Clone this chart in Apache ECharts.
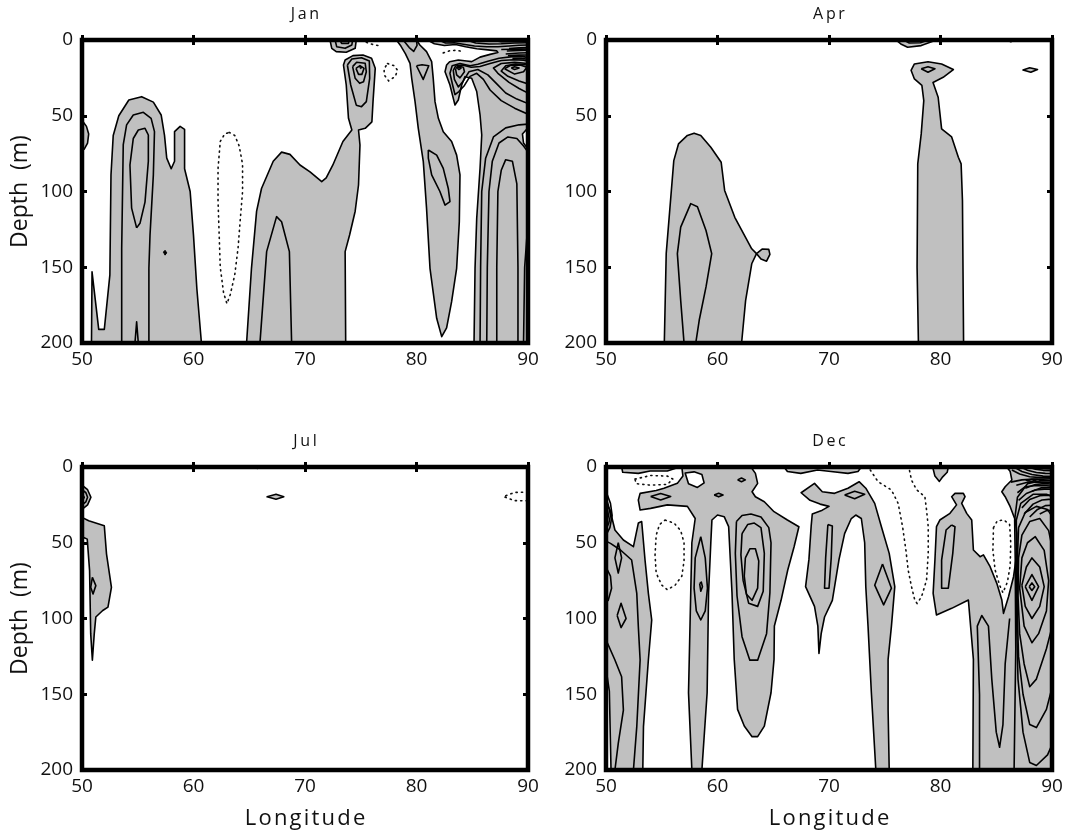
<!DOCTYPE html>
<html>
<head>
<meta charset="utf-8">
<script src="https://cdn.jsdelivr.net/npm/echarts/dist/echarts.min.js"></script>
<style>
html,body{margin:0;padding:0;background:#fff}
#chart{width:1070px;height:832px}
</style>
</head>
<body>
<div id="chart"></div>
<script>
// Axis ticks shared by every panel
const lonTicks = [50, 60, 70, 80, 90];
const depthTicks = [0, 50, 100, 150, 200];
const months = ['Jan', 'Apr', 'Jul', 'Dec'];

// ---------- Jan contours, [longitude, depth] ----------
const janEdgeBump = [[50,53],[50.4,57],[50.6,62],[50.5,68],[50.2,72],[50,73]];
const janWestOuter = [[50.85,200],[50.9,153],[51.5,191],[52.0,191],[52.5,155],[52.6,89],[52.8,63],[53.3,50],[54.2,39.6],[55.35,37.4],[56.4,41],[57.1,49.5],[57.4,63],[57.6,78],[58.0,85],[58.3,80],[58.3,60.5],[58.8,57],[59.2,59],[59.2,85],[59.7,100],[60.0,129],[60.3,164],[60.7,199],[60.75,200]];
const janWestMid = [[53.56,200],[53.56,137.5],[53.7,69],[54.0,56],[54.6,49.5],[55.5,47.7],[56.2,51.7],[56.5,60.5],[56.4,89],[56.1,128.7],[56.0,150.7],[56.0,200]];
const janWestCore = [[54.9,124],[54.45,111],[54.3,82.5],[54.6,65],[55.05,59.4],[55.65,58.3],[55.95,62.7],[55.95,80],[55.65,107],[55.2,121]];
const janWestSpike = [[54.75,200],[54.9,186],[55.05,200]];
const janWestSpot = [[57.3,140],[57.45,138.8],[57.6,140.5],[57.45,142]];
const janNegWest = [[63.2,61],[63.7,63],[64.1,70],[64.4,82],[64.4,100],[64.2,118],[64.0,137],[63.7,155],[63.3,168],[63.0,174],[62.7,167],[62.4,150],[62.3,128],[62.2,106],[62.2,85],[62.4,67],[62.8,62],[63.2,61]];
const janMidOuter = [[64.76,200],[65.2,150.7],[65.66,113],[66.1,98],[67.15,80],[67.9,74],[68.65,75.5],[69.55,82.5],[70.45,87],[71.5,93.5],[71.9,91],[72.5,82.5],[73.4,67],[74.2,59.4],[73.9,51.7],[73.7,29.7],[73.45,16.5],[73.6,13.2],[74.3,10.3],[75.2,9.9],[75.97,12],[76.3,18.7],[76.1,40.7],[76.0,54],[75.4,58.3],[74.8,59.4],[74.93,69.3],[74.8,95.7],[74.5,113],[74.0,128.7],[73.6,139.7],[73.65,200]];
const janMidInner = [[65.96,200],[66.56,139.7],[67.45,116.6],[67.9,120],[68.6,139.7],[68.8,200]];
const janNeckRing1 = [[73.8,16.5],[74.2,12.5],[75.07,11.7],[75.77,13.9],[75.8,25.3],[75.5,40.7],[75.07,44],[74.6,43],[74.1,29.7]];
const janNeckRing2 = [[74.27,17.6],[74.63,14.7],[75.4,15.4],[75.5,21],[75.25,27.5],[74.9,28.6],[74.5,25.3]];
const janNeckRing3 = [[74.57,18.7],[74.93,16.9],[75.3,18.7],[75.1,22.7],[74.8,22.7]];
const janNeckSpot = [[74.9,18.3],[75.0,17.8],[75.1,18.3],[75.0,18.9]];
const janTopBlob = [[72.24,0],[72.4,5.5],[72.8,7.7],[73.7,8.1],[74.5,5.5],[74.6,0]];
const janTopBlob2 = [[72.7,0],[72.84,4.4],[73.6,5.5],[74.2,3.3],[74.27,0]];
const janTopBlob3 = [[73.13,0],[73.28,2.2],[73.9,2.2],[73.97,0]];
const janNegTop = [[75.5,1.5],[76.0,2.8],[76.6,3.7]];
const janNegSmall = [[77.4,15.5],[78.0,17],[78.3,20],[78.1,24],[77.5,27],[77.1,23],[77.1,19],[77.4,15.5]];
const janEastAOuter = [[78.2,0],[78.6,4],[79.0,9],[79.42,15.4],[79.57,25.3],[79.87,40.7],[80.16,58.3],[80.61,80.3],[80.9,111],[81.21,150.7],[81.81,183.7],[82.26,195.8],[82.7,190],[83.15,172.7],[83.6,150.7],[83.84,120],[83.9,89],[83.6,76],[83.15,67],[82.4,60.5],[81.96,51.7],[81.66,40.7],[81.5,25.3],[81.36,14.3],[80.9,7.7],[80.3,3.3],[80.0,0]];
const janEastATop = [[78.8,0],[79.35,5],[79.75,7.5],[80.05,3.5],[80.0,0]];
const janEastARing = [[80.0,17],[80.5,16.3],[81.1,17],[80.6,26]];
const janEastAInner = [[81.06,72.6],[81.81,76],[82.4,84.7],[82.85,98],[83.0,106.7],[82.56,109],[82.1,100],[81.36,89],[81.06,78]];
const janEastBOuter = [[81.0,0],[81.6,2.5],[82.5,3.6],[83.5,3.0],[84.4,4.5],[85.4,5.8],[86.4,6.5],[87.2,7.2],[87.3,8.2],[86.6,9.5],[85.7,11.3],[84.95,14.3],[84.5,13.9],[83.75,13.2],[82.97,14.3],[82.7,16.5],[82.56,20.9],[83.0,29.7],[83.3,38.5],[83.45,42.9],[83.75,39.6],[84.05,29.7],[84.35,24.2],[84.95,25.3],[85.4,34],[85.7,49.5],[85.85,62.7],[85.7,84.7],[85.4,117.7],[85.25,150.7],[85.16,200],[90,200],[90,0]];
const janEastBNotch = [[90,58],[89.5,62],[89.6,68],[90,72]];
const janArch1 = [[85.7,200],[85.75,150],[85.85,100],[86.2,78],[86.9,64],[88.0,58],[89.2,56],[90,55.5]];
const janArch2 = [[86.3,200],[86.35,150],[86.5,100],[86.8,80],[87.4,68],[88.2,64],[89.0,65],[89.6,70],[90,74]];
const janArch3 = [[87.2,200],[87.2,150],[87.3,100],[87.6,86],[88.0,79],[88.6,80],[89.0,95],[89.1,150],[89.1,200]];
const janArch4 = [[89.6,200],[89.7,150],[90,120]];
const janFan1 = [[90,49],[88.8,45],[87.6,40],[86.6,33],[86.0,26],[85.4,22],[84.8,24],[84.3,30],[83.8,34],[83.45,36],[83.25,30],[83.0,22],[83.2,17],[83.9,15.5],[84.8,17],[85.5,16],[86.4,14],[87.4,12],[88.6,11],[89.5,11],[90,11.5]];
const janFan2 = [[90,42],[89,39],[88,35],[87.2,29],[86.4,23],[85.5,19.5],[84.7,21],[84.2,27],[83.75,31],[83.4,26],[83.3,20],[83.5,17.2],[84.1,16.5],[84.9,18],[85.7,17.5],[86.6,15.5],[87.6,13.5],[88.7,13],[89.6,13.3],[90,14]];
const janFan3 = [[90,35],[89.2,32],[88.3,28],[87.3,22],[86.9,18.5],[87.6,15.5],[88.8,14.8],[90,15.5]];
const janLipRing1 = [[83.5,19],[83.75,17.2],[84.2,18],[84.3,21],[83.9,25],[83.6,23],[83.5,19]];
const janLipRing2 = [[83.65,18.5],[83.8,17.8],[84.0,18.5],[83.8,19.5],[83.65,18.5]];
const janEyeRing1 = [[90,29],[89.2,27],[88.2,24],[87.6,20.5],[88.0,17],[88.9,15.8],[90,16.5]];
const janEyeRing2 = [[87.9,19],[88.4,16.8],[89.3,16.5],[89.9,18],[89.6,21],[88.8,22.5],[87.9,19]];
const janEyeRing3 = [[88.5,18.5],[88.8,17.6],[89.2,18.5],[88.8,19.4],[88.5,18.5]];
const janStrip2 = [[82.0,0],[82.6,2],[83.4,1.8],[84.2,2.8],[85.2,4],[86.3,4.5],[87.3,4.5],[88.3,4],[89.2,3.5],[90,3.3]];
const janStrip3 = [[84.5,0],[85.3,2],[86.5,2.6],[87.6,2.5],[88.8,2],[90,1.8]];
const janStrip4 = [[86.6,0],[87.6,1.1],[88.8,1],[90,0.8]];
const janCorner1 = [[88.3,5.6],[89.2,5.2],[90,5]];
const janCorner2 = [[88.1,7.3],[89.2,6.9],[90,6.7]];
const janCorner3 = [[88.0,9.2],[89.2,8.6],[90,8.4]];
const janCorner4 = [[88.2,10.3],[89.2,10],[90,9.9]];
const janCorner5 = [[87.6,6.3],[88.6,6.1],[89.4,6.0],[90,5.9]];
const janCorner6 = [[88.6,12.1],[89.4,12.0],[90,12.8]];
const janNegNotch = [[82.4,8.5],[83.0,7],[83.7,6.8],[84.2,8]];

// ---------- Apr contours ----------
const aprWestOuter = [[55.23,200],[55.4,141],[56.08,79.6],[56.5,68.6],[57.3,63],[57.9,61.5],[58.5,63],[59.4,70.8],[60.33,80.7],[60.64,99.3],[61.55,117],[63.07,137.8],[63.5,141],[63.07,147.7],[62.52,172],[62.16,200]];
const aprWestLobe = [[63.5,141],[64.0,138],[64.6,138.2],[64.7,141.5],[64.4,146],[63.9,144.5]];
const aprWestInner = [[57.0,200],[56.7,172],[56.4,141],[56.7,123.5],[57.6,108],[58.2,110],[58.97,125.7],[59.48,141],[58.97,163],[58.36,185],[58.05,200]];
const aprEastOuter = [[78.02,200],[77.9,150],[77.96,81.8],[78.27,62],[78.5,40],[78.33,30],[77.66,25.7],[77.36,20],[77.66,15.8],[78.88,14.3],[80.1,15.8],[81.15,19.5],[80.24,24.6],[79.33,28],[79.79,37.8],[80.1,58.7],[81.0,64],[81.6,77.4],[81.85,81.8],[81.97,106],[82.07,200]];
const aprEastRing = [[78.27,19],[78.88,17.6],[79.5,19],[78.88,21.3]];
const aprTopBlob = [[76.0,0],[76.44,2.6],[77.05,4.8],[78.27,3.7],[79.5,0.4],[79.6,0]];
const aprTopLine = [[76.7,0],[77.2,2],[78.2,1.8],[78.9,0]];
const aprSmall = [[87.4,19.8],[88.0,18.3],[88.7,19.5],[88.1,21.3]];
const aprTiny = [[86.0,0],[86.3,1.2],[86.7,0]];

// ---------- Jul contours ----------
const julEdge1 = [[50,12],[50.5,15],[50.8,20],[50.5,25],[50,28]];
const julEdge2 = [[50,15],[50.35,17],[50.5,20],[50.35,23],[50,25]];
const julEdge3 = [[50,17.5],[50.2,20],[50,22.5]];
const julWest = [[50,33.3],[50.6,35.5],[52.0,38.8],[52.2,57.5],[52.64,79.4],[52.33,92.5],[51.86,94.7],[51.24,99],[51.1,110],[50.93,127.6],[50.78,110],[50.68,68.4],[50.47,47.6],[50.15,46.5],[50,48.7]];
const julWestRing = [[50.93,72.8],[51.24,78.3],[50.99,83.8],[50.78,79.4]];
const julMid = [[66.6,19.7],[67.4,18],[68.1,19.7],[67.4,21.3]];
const julTop = [[65.4,0],[65.7,0.9],[66.1,0]];
const julNegEast = [[90,16.5],[88.8,16.8],[87.8,19.5],[88.8,22.2],[90,22.3]];

// ---------- Dec contours ----------
const decTopStripW = [[51.4,0],[51.5,3.5],[52.9,4.2],[53.95,2.6],[55.5,2.6],[56.6,0]];
const decNegTopW = [[52.6,8],[54,5.6],[55.5,6],[56.0,8],[55.5,11.5],[54,12],[52.7,11],[52.6,8]];
const decMain = [[56.8,0],[63.0,0],[63.4,4.2],[63.6,10.8],[63.1,16.3],[63.4,19.6],[64.2,22.9],[65.07,29.5],[66.27,35],[67.3,39.4],[66.87,52.6],[66.3,68],[65.7,88],[65.1,105],[65.07,127],[64.8,149],[64.2,171],[63.6,178],[63.1,178],[62.4,171],[61.8,160],[61.5,127],[61.3,83],[61.0,39.4],[60.6,32.8],[60.0,31.7],[59.5,35],[59.4,50],[59.2,83],[59.07,149],[58.6,200],[57.7,200],[57.4,149],[57.6,83],[57.7,50],[58.0,34],[57.3,26],[55.5,25],[54.0,27.3],[53.06,28.4],[52.9,21.8],[53.06,17.4],[54.5,15.5],[55.2,14],[56.4,10.8],[56.9,6]];
const decMainBay = [[57.1,4],[57.4,11],[58.2,13.5],[58.8,10.5],[58.6,5],[57.9,3.2]];
const decRingW = [[54.0,19.5],[54.9,17.5],[55.8,19.5],[54.9,21.8]];
const decRingTop = [[61.8,8.5],[62.15,7.3],[62.5,8.5],[62.15,9.7]];
const decRingMid = [[59.7,18.5],[60.1,17.3],[60.5,18.5],[60.1,19.7]];
const decLegA = [[58.5,46],[58.9,60],[59.1,80],[58.9,95],[58.5,101],[58.1,95],[57.9,80],[58.0,60]];
const decLegASpot = [[58.4,77],[58.55,76],[58.65,79],[58.5,82]];
const decLegB2 = [[61.7,36],[62.2,32],[63.0,31],[63.9,33],[64.6,40],[64.8,50],[64.7,83],[64.4,110],[63.6,127.5],[62.9,127.5],[62.2,112],[61.75,85],[61.6,57]];
const decLegB3 = [[62.2,44],[62.7,38],[63.3,37],[63.9,40],[64.2,57],[64.1,82],[63.6,92],[62.8,90],[62.3,75],[62.1,58]];
const decLegB4 = [[62.5,60],[62.9,54],[63.4,54],[63.7,62],[63.6,80],[63.1,88],[62.6,84],[62.4,72]];
const decNegW = [[55.3,35],[56.1,37],[56.7,42],[57.0,50],[57.0,62],[56.8,72],[56.2,78],[55.5,81],[55.0,78],[54.5,70],[54.4,58],[54.5,45],[54.8,38],[55.3,35]];
const decFarW = [[50,24],[50.36,28.4],[50.8,41.6],[51.56,48.2],[52.46,52.6],[52.9,37],[53.2,36],[53.5,61.4],[53.8,83.4],[54.1,101],[53.8,127.4],[53.36,171.4],[53.3,200],[50,200]];
const decFarWHole = [[50,133],[50.3,148],[50.45,200],[50,200]];
const decFarWLine1 = [[50,49],[50.4,50.4],[51.3,54.8],[52.3,61.4],[52.76,83.4],[52.9,105.4],[53.06,127.4],[52.76,171.4],[52.46,200]];
const decFarWLine2 = [[50,114],[50.8,127.4],[51.4,138.4],[51.56,160.4],[51.1,182.4],[50.8,200]];
const decFarWDia1 = [[51.1,50],[51.4,60],[51.1,70],[50.8,60]];
const decFarWDia2 = [[51.0,98],[51.35,90],[51.8,100],[51.35,106]];
const decFarWBump = [[50,66],[50.4,72],[50.5,80],[50.2,88],[50,89]];
const decFarWHatch1 = [[50,16],[50.4,24],[50.55,32],[50.35,40],[50,45]];
const decFarWHatch2 = [[50,20],[50.28,27],[50.4,32],[50.25,37],[50,41]];
const decFarWHatch3 = [[50,24],[50.15,29],[50.22,32],[50.12,35],[50,38]];
const decStripMid = [[65.97,0],[66.27,3],[67.47,4.2],[68.97,2],[70.17,3],[71.7,4.2],[72.6,3],[72.9,0]];
const decCentre = [[67.5,17],[68.7,10.8],[69.4,16.3],[70.5,17.4],[71.7,14],[72.7,9.7],[73.3,14],[74.1,24],[74.7,39.4],[75.4,57],[75.9,79],[75.6,105],[75.3,127],[75.3,160],[75.4,200],[74.2,200],[73.8,149],[73.5,105],[73.3,79],[73.2,50],[72.9,34],[72.4,31.7],[72.0,34],[71.4,44],[70.9,61],[70.3,88],[69.6,99],[69.3,110],[69.1,123],[69.0,105],[68.7,92],[67.9,79],[68.2,61],[68.4,39],[68.5,31],[69.4,28.5],[70.0,26],[69.2,24.5],[68.3,22]];
const decCentreRing = [[71.4,18.5],[72.3,16],[73.2,18],[72.3,21]];
const decCentreSliver = [[69.9,38],[70.3,39],[70.2,60],[70.0,80],[69.6,80],[69.7,60]];
const decCentreDia = [[74.8,64],[75.6,80],[74.9,91],[74.1,78]];
const decNegMid = [[73.7,2],[74.4,9.7],[75.6,15.2],[76.2,24],[76.6,39.4],[76.9,55],[77.1,68],[77.4,79],[77.7,88],[77.9,90],[78.3,85.6],[78.75,74.6],[78.9,57],[78.9,39.4],[78.75,28.4],[78.6,19.6],[77.85,15],[77.4,8.6],[77.2,1.5]];
const decTopE = [[79.3,0],[79.5,6],[79.9,9.5],[80.2,6.5],[80.6,3.5],[80.7,0]];
const decEast = [[81.0,19.6],[81.3,17.4],[82.05,17.4],[82.2,19.6],[81.9,24],[82.35,30.6],[82.8,35],[82.95,54.8],[83.55,59.2],[83.85,58],[84.45,65.8],[85.05,76.8],[85.5,87.8],[85.65,96.6],[86.1,85.6],[86.55,72.4],[86.85,57],[86.85,43.8],[86.7,35],[86.25,26.2],[85.8,19.6],[85.5,16.3],[85.8,13],[86.4,8.6],[86.25,3],[85.95,0],[90,0],[90,200],[82.9,200],[82.95,127],[82.5,87.8],[81.0,93.3],[79.64,97.7],[79.34,83.4],[79.5,61.4],[79.64,39.4],[79.94,35],[80.85,30.6],[81.44,25]];
const decEastSliver = [[80.99,38.3],[81.3,39.4],[81.1,57],[80.7,80],[80.1,80],[80.1,61.4],[80.5,41.6]];
const decNegEast = [[84.75,40],[85.1,35.5],[85.7,35],[86.2,38],[86.3,50],[86.25,65],[86.0,76],[85.6,83],[85.3,78],[84.9,68],[84.7,55],[84.75,40]];
const decEye1 = [[87.95,79],[88.2,76.5],[88.45,79],[88.2,81.5]];
const decEye2 = [[87.6,79],[88.2,71],[88.8,79],[88.2,88]];
const decEye3 = [[87.3,78],[87.7,66],[88.2,60],[88.9,66],[89.3,79],[88.9,92],[88.2,100],[87.6,92]];
const decEye4 = [[87.1,80],[87.3,60],[87.8,50],[88.5,46],[89.3,55],[89.7,75],[89.5,95],[88.8,110],[88.2,116],[87.5,105]];
const decEye5 = [[86.95,85],[87.0,60],[87.3,45],[88.0,36],[88.9,34],[89.7,42],[90.2,60],[90.2,100],[89.5,120],[88.6,140],[88.0,145],[87.5,130],[87.1,110]];
const decEye6 = [[86.9,100],[86.9,60],[87.0,40],[87.6,30],[88.6,26],[89.6,28],[90.2,35],[90.2,140],[89.5,160],[88.6,172],[88.0,170],[87.4,150],[87.0,125]];
const decEye7 = [[86.85,110],[86.8,60],[86.8,35],[87.2,24],[88.3,18],[89.5,18],[90.2,20],[90.2,180],[89.6,190],[88.6,197],[88.0,195],[87.4,175],[86.95,140]];
const decEastLine1 = [[86.6,200],[86.75,120],[86.7,60],[86.65,35],[86.9,20],[87.8,11],[89,9],[90,9]];
const decEastLine2 = [[83.5,200],[83.5,150],[83.3,105],[83.7,98],[84.3,105],[84.6,140],[85.0,175],[85.3,185],[85.6,170],[85.8,130],[86.2,100]];
const decCorner1 = [[86.6,0],[87.3,3],[88.2,5],[89.2,6],[90,6.2]];
const decCorner2 = [[87.2,0],[87.8,2.2],[88.6,3.6],[89.4,4.2],[90,4.3]];
const decCorner3 = [[87.9,0],[88.5,1.4],[89.2,2.2],[90,2.5]];
const decCorner4 = [[86.3,10],[87.3,8.5],[88.3,8],[89.2,8],[90,7.8]];
const decCorner5 = [[87.6,14],[88.5,11.5],[89.3,11],[90,11.2]];
const decCorner6 = [[88.2,16],[89,13.8],[90,13.6]];
const decCorner7 = [[86.4,2],[87.1,4.6],[88.0,6.4],[89.0,7.0],[90,7.1]];
const decCorner8 = [[86.8,12],[87.8,10],[88.9,9.9],[90,10.1]];
const decCorner9 = [[87.0,22],[87.7,17.5],[88.5,15.2],[89.3,14.6],[90,14.7]];
const decCorner10 = [[87.3,27],[88.0,21.5],[88.9,19.0],[89.6,18.6],[90,18.7]];
const decCorner11 = [[86.9,17],[87.6,13],[88.6,12.2],[89.5,12.4],[90,12.6]];
const decCorner12 = [[88.8,1],[89.4,1.2],[90,1.3]];
const decCorner13 = [[87.5,31],[88.3,24.5],[89.1,21.8],[89.7,21.4],[90,21.5]];
const decCorner14 = [[88.0,33],[88.7,28],[89.4,25.5],[90,25.2]];
const decCorner15 = [[88.9,31],[89.5,28.8],[90,28.5]];
const decCornerHole = [[87.7,8.8],[88.2,8.1],[88.7,8.3],[88.2,9.6]];

// Draw lists for each panel: k = fill | hole | ring | line | neg | spot
const janShapes = [
  {k:'fill', p:janEdgeBump}, {k:'fill', p:janWestOuter}, {k:'ring', p:janWestMid, open:true},
  {k:'ring', p:janWestCore}, {k:'line', p:janWestSpike}, {k:'spot', p:janWestSpot},
  {k:'neg', p:janNegWest},
  {k:'fill', p:janMidOuter}, {k:'line', p:janMidInner}, {k:'ring', p:janNeckRing1},
  {k:'ring', p:janNeckRing2}, {k:'ring', p:janNeckRing3}, {k:'spot', p:janNeckSpot},
  {k:'fill', p:janTopBlob}, {k:'line', p:janTopBlob2}, {k:'line', p:janTopBlob3},
  {k:'neg', p:janNegTop}, {k:'neg', p:janNegSmall}, {k:'neg', p:janNegNotch},
  {k:'fill', p:janEastAOuter}, {k:'line', p:janEastATop}, {k:'ring', p:janEastARing}, {k:'ring', p:janEastAInner},
  {k:'fill', p:janEastBOuter}, {k:'hole', p:janEastBNotch},
  {k:'line', p:janArch1}, {k:'line', p:janArch2}, {k:'line', p:janArch3}, {k:'line', p:janArch4},
  {k:'line', p:janFan1}, {k:'line', p:janFan2}, {k:'line', p:janFan3},
  {k:'line', p:janLipRing1}, {k:'line', p:janLipRing2},
  {k:'line', p:janEyeRing1}, {k:'line', p:janEyeRing2}, {k:'line', p:janEyeRing3},
  {k:'line', p:janStrip2}, {k:'line', p:janStrip3}, {k:'line', p:janStrip4},
  {k:'line', p:janCorner1}, {k:'line', p:janCorner2}, {k:'line', p:janCorner3},
  {k:'line', p:janCorner4}, {k:'line', p:janCorner5}, {k:'line', p:janCorner6}
];
const aprShapes = [
  {k:'fill', p:aprWestOuter}, {k:'fill', p:aprWestLobe}, {k:'line', p:aprWestInner},
  {k:'fill', p:aprEastOuter}, {k:'ring', p:aprEastRing},
  {k:'fill', p:aprTopBlob}, {k:'line', p:aprTopLine},
  {k:'fill', p:aprSmall}, {k:'fill', p:aprTiny}
];
const julShapes = [
  {k:'fill', p:julEdge1}, {k:'line', p:julEdge2}, {k:'line', p:julEdge3},
  {k:'fill', p:julWest}, {k:'ring', p:julWestRing},
  {k:'fill', p:julMid}, {k:'fill', p:julTop}, {k:'neg', p:julNegEast}
];
const decShapes = [
  {k:'fill', p:decTopStripW}, {k:'neg', p:decNegTopW},
  {k:'fill', p:decMain}, {k:'hole', p:decMainBay}, {k:'ring', p:decRingW}, {k:'ring', p:decRingTop},
  {k:'ring', p:decRingMid}, {k:'ring', p:decLegA}, {k:'ring', p:decLegASpot},
  {k:'ring', p:decLegB2}, {k:'ring', p:decLegB3}, {k:'ring', p:decLegB4},
  {k:'neg', p:decNegW},
  {k:'fill', p:decFarW}, {k:'hole', p:decFarWHole}, {k:'line', p:decFarWLine1}, {k:'line', p:decFarWLine2},
  {k:'ring', p:decFarWDia1}, {k:'ring', p:decFarWDia2}, {k:'line', p:decFarWBump},
  {k:'line', p:decFarWHatch1}, {k:'line', p:decFarWHatch2}, {k:'line', p:decFarWHatch3},
  {k:'fill', p:decStripMid},
  {k:'fill', p:decCentre}, {k:'ring', p:decCentreRing}, {k:'ring', p:decCentreSliver}, {k:'ring', p:decCentreDia},
  {k:'neg', p:decNegMid},
  {k:'fill', p:decTopE},
  {k:'fill', p:decEast}, {k:'ring', p:decEastSliver},
  {k:'ring', p:decEye1}, {k:'ring', p:decEye2}, {k:'ring', p:decEye3}, {k:'ring', p:decEye4},
  {k:'ring', p:decEye5}, {k:'ring', p:decEye6}, {k:'ring', p:decEye7},
  {k:'line', p:decEastLine1}, {k:'line', p:decEastLine2},
  {k:'line', p:decCorner1}, {k:'line', p:decCorner2}, {k:'line', p:decCorner3},
  {k:'line', p:decCorner4}, {k:'line', p:decCorner5}, {k:'line', p:decCorner6},
  {k:'line', p:decCorner7}, {k:'line', p:decCorner8}, {k:'line', p:decCorner9},
  {k:'line', p:decCorner10}, {k:'line', p:decCorner11}, {k:'line', p:decCorner12},
  {k:'line', p:decCorner13}, {k:'line', p:decCorner14}, {k:'line', p:decCorner15},
  {k:'hole', p:decCornerHole},
  {k:'neg', p:decNegEast}
];
const panelShapes = [janShapes, aprShapes, julShapes, decShapes];

const GRAY = '#c0c0c0';
const LW = 1.6;
const FONT = '"Open Sans", "DejaVu Sans", sans-serif';

function contourRenderer(shapes) {
  return function (params, api) {
    const s = shapes[params.dataIndex];
    const pts = s.p.map(function (v) { return api.coord(v); });
    if (s.k === 'fill' || s.k === 'hole') {
      return { type: 'polygon', shape: { points: pts },
        style: { fill: s.k === 'fill' ? GRAY : '#fff', stroke: '#000', lineWidth: LW, lineJoin: 'round' } };
    }
    if (s.k === 'spot') {
      return { type: 'polygon', shape: { points: pts }, style: { fill: '#000', stroke: '#000', lineWidth: 1 } };
    }
    if (s.k === 'ring') {
      const closed = s.open ? pts : pts.concat([pts[0]]);
      return { type: 'polyline', shape: { points: closed },
        style: { fill: null, stroke: '#000', lineWidth: LW, lineJoin: 'round' } };
    }
    if (s.k === 'neg') {
      return { type: 'polyline', shape: { points: pts },
        style: { fill: null, stroke: '#111', lineWidth: 1.6, lineDash: [1.2, 4.2], lineCap: 'round' } };
    }
    return { type: 'polyline', shape: { points: pts },
      style: { fill: null, stroke: '#000', lineWidth: LW, lineJoin: 'round' } };
  };
}

function frameRenderer(params, api) {
  const r = params.coordSys;
  return { type: 'rect', shape: { x: r.x, y: r.y, width: r.width, height: r.height },
    style: { fill: null, stroke: '#000', lineWidth: 4.5 } };
}

// Panel placement: [left, top]
const panelPos = [[82, 40], [606, 40], [82, 467], [606, 467]];
const PW = 446, PH = 303;

const grids = [], xAxes = [], yAxes = [], series = [];
panelPos.forEach(function (pos, i) {
  grids.push({ left: pos[0], top: pos[1], width: PW, height: PH, containLabel: false });
  const bottomRow = i >= 2, leftCol = i % 2 === 0;
  const tick = { show: true, inside: true, length: 5, lineStyle: { color: '#000', width: 3 } };
  // bottom axis with labels
  xAxes.push({
    gridIndex: i, type: 'value', min: lonTicks[0], max: lonTicks[lonTicks.length - 1], interval: 10,
    position: 'bottom', axisLine: { show: false }, splitLine: { show: false }, axisTick: tick,
    axisLabel: { color: '#111', fontSize: 19, fontFamily: FONT, margin: 7 },
    name: bottomRow ? 'L\u200Ao\u200An\u200Ag\u200Ai\u200At\u200Au\u200Ad\u200Ae' : '',
    nameLocation: 'middle', nameGap: 38,
    nameTextStyle: { color: '#111', fontSize: 22, fontFamily: FONT }
  });
  // top axis carries the month title and mirrored ticks
  xAxes.push({
    gridIndex: i, type: 'value', min: lonTicks[0], max: lonTicks[lonTicks.length - 1], interval: 10,
    position: 'top', axisLine: { show: false }, splitLine: { show: false }, axisTick: tick,
    axisLabel: { show: false },
    name: months[i].split('').join('\u2009'), nameLocation: 'middle', nameGap: 18,
    nameTextStyle: { color: '#111', fontSize: 16, fontFamily: FONT }
  });
  yAxes.push({
    gridIndex: i, type: 'value', inverse: true, min: depthTicks[0], max: depthTicks[depthTicks.length - 1], interval: 50,
    position: 'left', axisLine: { show: false }, splitLine: { show: false }, axisTick: tick,
    axisLabel: { color: '#111', fontSize: 19, fontFamily: FONT, margin: 9 },
    name: leftCol ? 'Depth  (m)' : '', nameLocation: 'middle', nameGap: 50, nameRotate: 90,
    nameTextStyle: { color: '#111', fontSize: 23, fontFamily: FONT }
  });
  yAxes.push({
    gridIndex: i, type: 'value', inverse: true, min: depthTicks[0], max: depthTicks[depthTicks.length - 1], interval: 50,
    position: 'right', axisLine: { show: false }, splitLine: { show: false }, axisTick: tick,
    axisLabel: { show: false }
  });
  const shapes = panelShapes[i];
  series.push({
    type: 'custom', xAxisIndex: 2 * i, yAxisIndex: 2 * i, clip: true, silent: true,
    renderItem: contourRenderer(shapes),
    data: shapes.map(function (s) { return s.p[0]; }),
    z: 2
  });
  series.push({
    type: 'custom', xAxisIndex: 2 * i, yAxisIndex: 2 * i, clip: false, silent: true,
    renderItem: frameRenderer, data: [[lonTicks[0], depthTicks[0]]], z: 5
  });
});

const chart = echarts.init(document.getElementById('chart'), null, { renderer: 'canvas' });
chart.setOption({
  animation: false,
  backgroundColor: '#fff',
  grid: grids, xAxis: xAxes, yAxis: yAxes, series: series
});
</script>
</body>
</html>
